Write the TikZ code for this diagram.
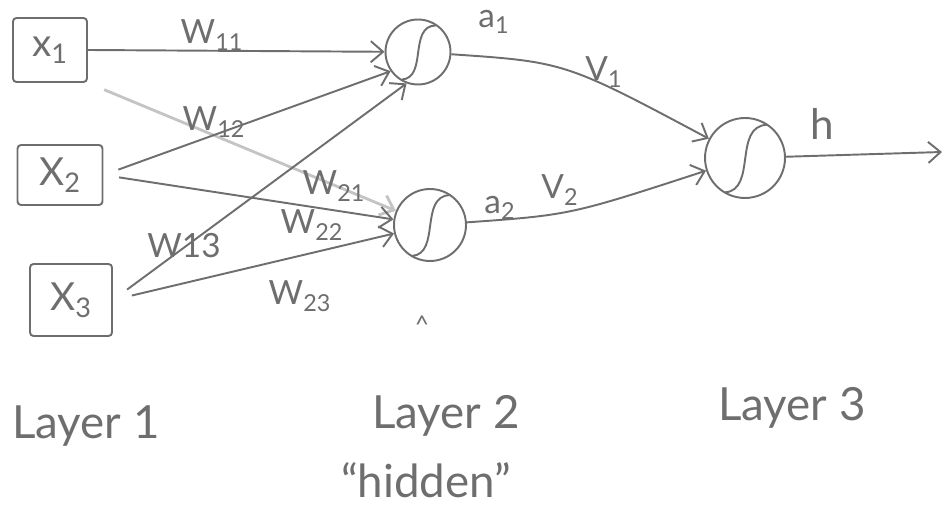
\documentclass[tikz,border=0pt]{standalone}
\usepackage{fontspec}
\setmainfont{Lato}
\usetikzlibrary{arrows.meta,calc}
\definecolor{ink}{HTML}{6E6E6E}
\definecolor{faint}{HTML}{C4C4C4}
\newcommand{\sigcurve}[2]{%
  \draw[ink,line width=1.1pt] ($(#1)+(-0.5*#2,0.86*#2)$) .. controls ($(#1)+(0.3*#2,0.8*#2)$) and ($(#1)+(-0.3*#2,-0.8*#2)$) .. ($(#1)+(0.55*#2,-0.83*#2)$);}
\newcommand{\lowidx}[1]{\textsubscript{#1}}
\begin{document}
\begin{tikzpicture}[x=0.02cm,y=-0.02cm,
  every node/.style={text=ink},
  inbox/.style={draw=ink,line width=1.1pt,rounded corners=2pt,inner sep=0pt,font=\fontsize{22}{24}\selectfont},
  neuron/.style={draw=ink,line width=1.1pt,circle,inner sep=0pt},
  arr/.style={draw=ink,line width=1.1pt,-{Straight Barb[length=7pt,width=12pt]}},
  farr/.style={draw=faint,line width=1.6pt,-{Straight Barb[length=7pt,width=12pt]}},
  wlab/.style={font=\fontsize{19}{21}\selectfont,inner sep=0pt},
  laylab/.style={font=\fontsize{26}{30}\selectfont,inner sep=0pt}]
\useasboundingbox (0,0) rectangle (946,509);
% input boxes
\node[inbox,minimum width=1.48cm,minimum height=1.28cm] (x1) at (50,50) {x\lowidx{1}};
\node[inbox,minimum width=1.70cm,minimum height=1.20cm] (x2) at (60,175) {X\lowidx{2}};
\node[inbox,minimum width=1.64cm,minimum height=1.44cm] (x3) at (71,300) {X\lowidx{3}};
% neurons
\node[neuron,minimum size=1.30cm] (h1) at (418,52) {};
\node[neuron,minimum size=1.44cm] (h2) at (430,225) {};
\node[neuron,minimum size=1.60cm] (o) at (745,158) {};
\sigcurve{h1}{32}
\sigcurve{h2}{36}
\sigcurve{o}{40}
\coordinate (out) at (942,152);
% input connections
\draw[arr] (x1.east) -- (h1);
\draw[farr,shorten <=10pt] (x1.south east) -- (h2);
\draw[arr,shorten <=9pt] (x2.east) -- (h1.215);
\draw[arr,shorten <=9pt] (x2.east) -- (h2);
\draw[arr,shorten <=10pt] (x3.east) -- (h1.250);
\draw[arr,shorten <=11pt] (x3.east) -- (h2);
% hidden to output
\draw[arr] (h1) .. controls (565,62) .. (o);
\draw[arr] (h2) .. controls (570,215) .. (o);
\draw[arr] (o) -- (out);
% weight labels
\node[wlab] (w11) at (212,35) {W\lowidx{11}};
\node[wlab] (w12) at (214,122) {W\lowidx{12}};
\node[wlab] (w21) at (334,186) {W\lowidx{21}};
\node[wlab] (w22) at (312,225) {W\lowidx{22}};
\node[wlab] (w13) at (184,246) {W13};
\node[wlab] (w23) at (300,296) {W\lowidx{23}};
\node[wlab] (a1) at (494,22) {a\lowidx{1}};
\node[wlab] (a2) at (500,208) {a\lowidx{2}};
\node[wlab] (v1) at (604,72) {V\lowidx{1}};
\node[wlab] (v2) at (560,190) {V\lowidx{2}};
\node[wlab,font=\fontsize{24}{26}\selectfont] (hl) at (822,124) {h};
\node[wlab,font=\fontsize{14}{16}\selectfont] (caret) at (422,325) {\textasciicircum};
% layer labels
\node[laylab] (l1) at (86,426) {Layer 1};
\node[laylab] (l2) at (446,416) {Layer 2};
\node[laylab] (l3) at (792,408) {Layer 3};
\node[laylab] (hid) at (426,480) {``hidden''};
\end{tikzpicture}
\end{document}
